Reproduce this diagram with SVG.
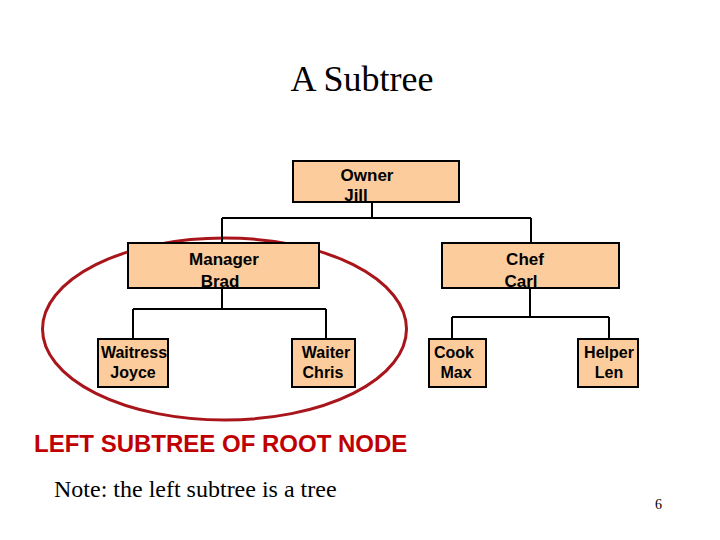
<svg xmlns="http://www.w3.org/2000/svg" width="720" height="540" viewBox="0 0 720 540">
<style>
.box{fill:#FCCC9C;stroke:#000;stroke-width:2}
.lbl{font-family:"Liberation Sans",Arial,sans-serif;font-weight:bold;font-size:17px;fill:#000;text-anchor:middle}
.sm{font-size:16px}
.ln{stroke:#000;stroke-width:2;fill:none}
</style>
<rect width="720" height="540" fill="#fff"/>
<text x="362" y="91" font-family="Liberation Serif,serif" font-size="36" text-anchor="middle">A Subtree</text>
<ellipse cx="224.5" cy="329" rx="182" ry="91" fill="none" stroke="#A8161C" stroke-width="3"/>
<g id="connectors">
<path class="ln" d="M372 202V218M222 218H531M222 218V243M531 218V243"/>
<path class="ln" d="M222 288V309M133 309H326M133 309V339M326 309V339"/>
<path class="ln" d="M530 288V317M452 317H609M452 317V339M609 317V339"/>
</g>
<g id="owner"><rect class="box" x="293" y="161" width="166" height="41"/><text class="lbl" x="367" y="181">Owner</text><text class="lbl" x="356" y="201">Jill</text></g>
<g id="manager"><rect class="box" x="128" y="243" width="191" height="45"/><text class="lbl" x="224" y="265">Manager</text><text class="lbl" x="220" y="287">Brad</text></g>
<g id="chef"><rect class="box" x="442" y="243" width="177" height="45"/><text class="lbl" x="525" y="265">Chef</text><text class="lbl" x="521" y="287">Carl</text></g>
<g id="waitress"><rect class="box" x="98" y="339" width="70" height="48"/><text class="lbl sm" x="134" y="358">Waitress</text><text class="lbl sm" x="133" y="378">Joyce</text></g>
<g id="waiter"><rect class="box" x="292" y="339" width="63" height="48"/><text class="lbl sm" x="326" y="358">Waiter</text><text class="lbl sm" x="323" y="378">Chris</text></g>
<g id="cook"><rect class="box" x="429" y="339" width="57" height="48"/><text class="lbl sm" x="454" y="358">Cook</text><text class="lbl sm" x="456" y="378">Max</text></g>
<g id="helper"><rect class="box" x="578" y="339" width="60" height="48"/><text class="lbl sm" x="609" y="358">Helper</text><text class="lbl sm" x="609" y="378">Len</text></g>
<text x="34" y="452" font-family="Liberation Sans,Arial,sans-serif" font-weight="bold" font-size="24" fill="#C00000">LEFT SUBTREE OF ROOT NODE</text>
<text x="54" y="497" font-family="Liberation Serif,serif" font-size="24">Note: the left subtree is a tree</text>
<text x="655" y="509" font-family="Liberation Serif,serif" font-size="14">6</text>
</svg>
